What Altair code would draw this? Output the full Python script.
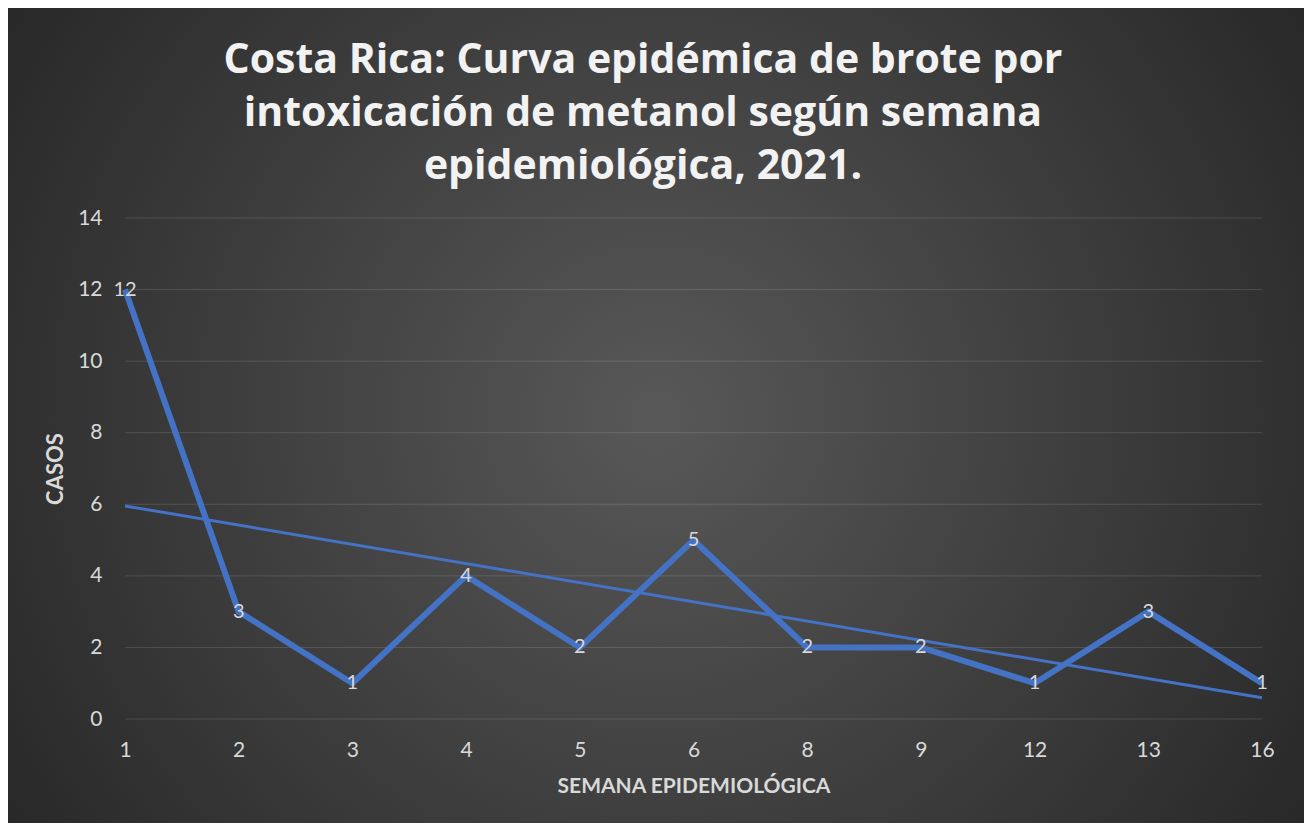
import altair as alt
import pandas as pd

# ---- data ----
weeks = ["1", "2", "3", "4", "5", "6", "8", "9", "12", "13", "16"]
cases = [12, 3, 1, 4, 2, 5, 2, 2, 1, 3, 1]
y_ticks = [0, 2, 4, 6, 8, 10, 12, 14]
title_lines = [
    "Costa Rica: Curva epidémica de brote por",
    "intoxicación de metanol según semana",
    "epidemiológica, 2021.",
]
x_title = "SEMANA EPIDEMIOLÓGICA"
y_title = "CASOS"

# ---- layout ----
W, H = 1137, 501
PL, PT, PR, PB = 117, 210, 42, 104
FONT = "Lato"
BLUE = "#4472C4"
TXT = "#d9d9d9"

df = pd.DataFrame({"idx": list(range(len(weeks))), "semana": weeks, "casos": cases})
grid_df = pd.DataFrame({"v": y_ticks})
title_df = pd.DataFrame({"t": ["\n".join(title_lines)]})
one = pd.DataFrame({"a": [0]})

label_expr = "[" + ",".join(f"'{w}'" for w in weeks) + "][datum.value]"

x_scale = alt.Scale(domain=[0, len(weeks) - 1], nice=False, zero=False)
y_scale = alt.Scale(domain=[0, 14], nice=False)
x_axis = alt.Axis(values=list(range(len(weeks))), labelExpr=label_expr, title=x_title,
                  grid=False, ticks=False, domain=False, labelPadding=20, titlePadding=15,
                  labelFont=FONT, labelFontSize=21, labelColor=TXT, labelFlush=False,
                  titleFont=FONT, titleFontSize=21, titleFontWeight="bold", titleColor=TXT,
                  zindex=1)
y_axis = alt.Axis(values=y_ticks, title=y_title, grid=False, ticks=False, domain=False,
                  labelPadding=23, titlePadding=10, labelFont=FONT, labelFontSize=21,
                  labelColor=TXT, titleFont=FONT, titleFontSize=22, titleFontWeight="bold",
                  titleColor=TXT, zindex=1)

gradient = {
    "gradient": "radial",
    "x1": 0.5, "y1": 0.5, "r1": 0,
    "x2": 0.5, "y2": 0.5, "r2": 0.62,
    "stops": [
        {"offset": 0, "color": "#585858"},
        {"offset": 1, "color": "#262626"},
    ],
}

bg = alt.Chart(one).mark_rect(fill=gradient, stroke=None).encode(
    x=alt.value(-PL), x2=alt.value(W + PR), y=alt.value(-PT), y2=alt.value(H + PB)
)

grid = alt.Chart(grid_df).mark_rule(color="#ffffff", opacity=0.13, strokeWidth=1).encode(
    y=alt.Y("v:Q", scale=y_scale, axis=y_axis)
)

trend = alt.Chart(df).transform_regression("idx", "casos").mark_line(
    color=BLUE, strokeWidth=3
).encode(
    x=alt.X("idx:Q", scale=x_scale, axis=x_axis),
    y=alt.Y("casos:Q", scale=y_scale, axis=y_axis),
)

line = alt.Chart(df).mark_line(color=BLUE, strokeWidth=6).encode(
    x=alt.X("idx:Q", scale=x_scale, axis=x_axis),
    y=alt.Y("casos:Q", scale=y_scale, axis=y_axis),
)

labels = alt.Chart(df).mark_text(font=FONT, fontSize=20, color=TXT, baseline="middle",
                                 align="center").encode(
    x=alt.X("idx:Q", scale=x_scale, axis=x_axis),
    y=alt.Y("casos:Q", scale=y_scale, axis=y_axis),
    text=alt.Text("casos:Q"),
)

title = alt.Chart(title_df).mark_text(
    font="Open Sans", fontSize=41, fontWeight="bold", color="#f2f2f2", align="center",
    baseline="alphabetic", lineBreak="\n", lineHeight=53,
).encode(text="t:N", x=alt.value(643 - 125), y=alt.value(73 - 218))

chart = alt.layer(bg, grid, trend, line, labels, title).properties(
    width=W, height=H,
    autosize=alt.AutoSizeParams(type="none"),
    padding={"left": PL, "top": PT, "right": PR, "bottom": PB},
    background="#262626",
).configure_view(stroke=None)

chart.save("out.html", embed_options={"renderer": "svg", "actions": False})
